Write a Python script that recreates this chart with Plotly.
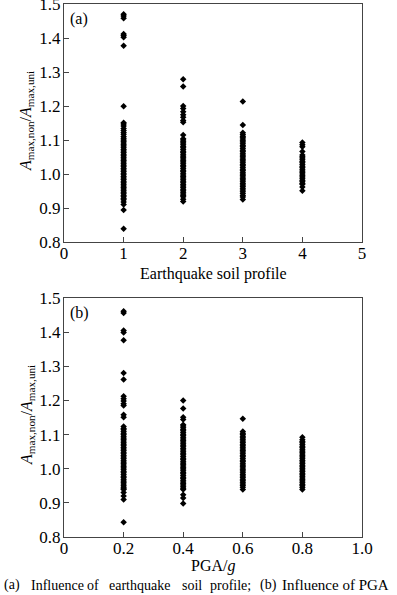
import plotly.graph_objects as go

# ---------------- data ----------------
# (a) grouped by earthquake soil profile
profile_1 = [1.470, 1.465, 1.458, 1.412, 1.407, 1.402, 1.377, 1.199, 1.151, 1.147, 1.141,
             1.134, 1.128, 1.122, 1.117,
             1.110, 1.105, 1.100, 1.096, 1.091, 1.086, 1.082, 1.077, 1.072, 1.068, 1.063,
             1.058, 1.054, 1.049, 1.044, 1.040, 1.035, 1.030, 1.026, 1.021, 1.016, 1.012,
             1.007, 1.002, 0.998, 0.993, 0.988, 0.984, 0.979, 0.974, 0.970, 0.965, 0.960,
             0.956, 0.951, 0.946, 0.942, 0.937, 0.933,
             0.928, 0.924, 0.918, 0.910, 0.894, 0.839]
profile_2 = [1.279, 1.257, 1.200, 1.193, 1.183, 1.174, 1.167, 1.157, 1.152, 1.115, 1.104,
             1.100, 1.095, 1.091, 1.086, 1.081, 1.077, 1.072, 1.067, 1.063, 1.058, 1.053,
             1.049, 1.044, 1.039, 1.035, 1.030, 1.025, 1.021, 1.016, 1.011, 1.007, 1.002,
             0.997, 0.993, 0.988, 0.983, 0.979, 0.974, 0.969, 0.965, 0.960, 0.955, 0.951,
             0.946, 0.941, 0.937, 0.933, 0.926, 0.919]
profile_3 = [1.213, 1.144, 1.121, 1.116, 1.111,
             1.108, 1.103, 1.098, 1.094, 1.089, 1.084, 1.080, 1.075, 1.070, 1.066, 1.061,
             1.056, 1.052, 1.047, 1.042, 1.038, 1.033, 1.028, 1.024, 1.019, 1.014, 1.010,
             1.005, 1.000, 0.996, 0.991, 0.986, 0.982, 0.977, 0.972, 0.968, 0.963, 0.958,
             0.953, 0.948, 0.943, 0.937, 0.932, 0.925]
profile_4 = [1.093, 1.086, 1.080, 1.066,
             1.056, 1.051, 1.047, 1.042, 1.037, 1.033, 1.028, 1.023, 1.019, 1.014, 1.009,
             1.005, 1.000, 0.995, 0.991, 0.986, 0.981, 0.977, 0.972, 0.970, 0.962, 0.951]

# (b) grouped by PGA/g
pga_02 = [1.461, 1.456, 1.405, 1.399, 1.376, 1.280, 1.261, 1.212, 1.205, 1.198, 1.190,
          1.185, 1.158, 1.151, 1.124, 1.118,
          1.114, 1.109, 1.104, 1.100, 1.095, 1.090, 1.086, 1.081, 1.076, 1.072, 1.067,
          1.062, 1.058, 1.053, 1.048, 1.044, 1.039, 1.034, 1.030, 1.025, 1.020, 1.016,
          1.011, 1.006, 1.002, 0.997, 0.992, 0.988, 0.983, 0.978, 0.974, 0.969, 0.964,
          0.960, 0.955, 0.950, 0.946, 0.941, 0.939, 0.930, 0.920, 0.910, 0.843]
pga_04 = [1.200, 1.176, 1.151, 1.144, 1.129,
          1.125, 1.120, 1.115, 1.111, 1.106, 1.101, 1.097, 1.092, 1.087, 1.083, 1.078,
          1.073, 1.069, 1.064, 1.059, 1.055, 1.050, 1.045, 1.041, 1.036, 1.031, 1.027,
          1.022, 1.017, 1.013, 1.008, 1.003, 0.999, 0.994, 0.989, 0.985, 0.980, 0.975,
          0.971, 0.966, 0.961, 0.957, 0.952, 0.947, 0.943, 0.939, 0.924, 0.914, 0.898]
pga_06 = [1.146, 1.109, 1.104,
          1.100, 1.095, 1.091, 1.086, 1.081, 1.077, 1.072, 1.067, 1.063, 1.058, 1.053,
          1.049, 1.044, 1.039, 1.035, 1.030, 1.025, 1.021, 1.016, 1.011, 1.007, 1.002,
          0.997, 0.993, 0.988, 0.983, 0.979, 0.974, 0.969, 0.965, 0.960, 0.955, 0.951,
          0.946, 0.939]
pga_08 = [1.092,
          1.085, 1.080, 1.076, 1.071, 1.066, 1.062, 1.057, 1.052, 1.048, 1.043, 1.038,
          1.034, 1.029, 1.024, 1.020, 1.015, 1.010, 1.006, 1.001, 0.996, 0.992, 0.987,
          0.982, 0.978, 0.973, 0.968, 0.964, 0.959, 0.954, 0.950, 0.945, 0.939]

profile_cats = [1, 2, 3, 4]
profile_groups = [profile_1, profile_2, profile_3, profile_4]
pga_cats = [0.2, 0.4, 0.6, 0.8]
pga_groups = [pga_02, pga_04, pga_06, pga_08]

x_ticks_a = [0, 1, 2, 3, 4, 5]
x_ticktext_a = ["0", "1", "2", "3", "4", "5"]
x_ticks_b = [0, 0.2, 0.4, 0.6, 0.8, 1.0]
x_ticktext_b = ["0", "0.2", "0.4", "0.6", "0.8", "1.0"]
y_ticks = [0.8, 0.9, 1.0, 1.1, 1.2, 1.3, 1.4, 1.5]
y_ticktext = ["0.8", "0.9", "1.0", "1.1", "1.2", "1.3", "1.4", "1.5"]

# ---------------- figure ----------------
FONT = "Liberation Serif, Times New Roman, serif"
W, H = 397, 595
ML, MR, MT, MB = 64, 35, 4, 58

fig = go.Figure()

marker = dict(symbol="diamond", size=5, color="black", line=dict(width=0))

xa, ya = [], []
for c, g in zip(profile_cats, profile_groups):
    xa += [c] * len(g)
    ya += g
fig.add_trace(go.Scatter(x=xa, y=ya, mode="markers", marker=marker,
                         xaxis="x", yaxis="y", showlegend=False, cliponaxis=False))

xb, yb = [], []
for c, g in zip(pga_cats, pga_groups):
    xb += [c] * len(g)
    yb += g
fig.add_trace(go.Scatter(x=xb, y=yb, mode="markers", marker=marker,
                         xaxis="x2", yaxis="y2", showlegend=False, cliponaxis=False))

ph = H - MT - MB
def fy(px):
    return (H - MB - px) / ph

axis_common = dict(showline=True, linecolor="#444", linewidth=1.2, mirror=True,
                   ticks="inside", ticklen=5, tickcolor="#444", tickwidth=1,
                   showgrid=False, zeroline=False, ticklabeloverflow="allow",
                   tickfont=dict(family=FONT, size=17, color="black"))

fig.update_layout(
    width=W, height=H,
    margin=dict(l=ML, r=MR, t=MT, b=MB, autoexpand=False),
    paper_bgcolor="white", plot_bgcolor="white",
    xaxis=dict(domain=[0, 1], range=[0, 5], anchor="y", ticklabelstandoff=-5,
               tickmode="array", tickvals=x_ticks_a, ticktext=x_ticktext_a, **axis_common),
    yaxis=dict(domain=[fy(242), 1], range=[0.8, 1.5], anchor="x", ticklabelstandoff=-1,
               tickmode="array", tickvals=y_ticks, ticktext=y_ticktext, **axis_common),
    xaxis2=dict(domain=[0, 1], range=[0, 1.0], anchor="y2", ticklabelstandoff=-5,
                tickmode="array", tickvals=x_ticks_b, ticktext=x_ticktext_b, **axis_common),
    yaxis2=dict(domain=[0, fy(298)], range=[0.8, 1.5], anchor="x2", ticklabelstandoff=-1,
                tickmode="array", tickvals=y_ticks, ticktext=y_ticktext, **axis_common),
)

pw = W - ML - MR
def fx(px):
    return (px - ML) / pw

ytitle = "<i>A</i><sub>max,non</sub>/<i>A</i><sub>max,uni</sub>"
ann = [
    dict(text=ytitle, x=fx(27), y=fy(121), textangle=-90),
    dict(text=ytitle, x=fx(27), y=fy(415), textangle=-90),
    dict(text="Earthquake soil profile", x=fx(213), y=fy(274)),
    dict(text="PGA/<i>g</i>", x=fx(213), y=fy(566)),
    dict(text="(a)", x=fx(79), y=fy(19)),
    dict(text="(b)", x=fx(79), y=fy(313)),
]
annotations = []
for a in ann:
    d = dict(xref="paper", yref="paper", showarrow=False, xanchor="center",
             yanchor="middle", font=dict(family=FONT, size=16, color="black"))
    d.update(a)
    annotations.append(d)

# caption words (justified line)
caption_words = ["(a)", "Influence", "of", "earthquake", "soil", "profile;", "(b)"]
caption_pos = [2, 29, 85, 107, 180, 208, 258]
for w, p in zip(caption_words, caption_pos):
    annotations.append(dict(text=w, x=fx(p), y=fy(585), xref="paper", yref="paper",
                            showarrow=False, xanchor="left", yanchor="middle",
                            font=dict(family=FONT, size=14, color="black")))
annotations.append(dict(text="Influence of PGA", x=fx(280), y=fy(585), xref="paper",
                        yref="paper", showarrow=False, xanchor="left", yanchor="middle",
                        font=dict(family=FONT, size=15, color="black")))

fig.update_layout(annotations=annotations)

fig.write_html("out.html", config={"displayModeBar": False},
               post_script="document.body.style.margin='0';document.body.style.overflow='hidden';")
